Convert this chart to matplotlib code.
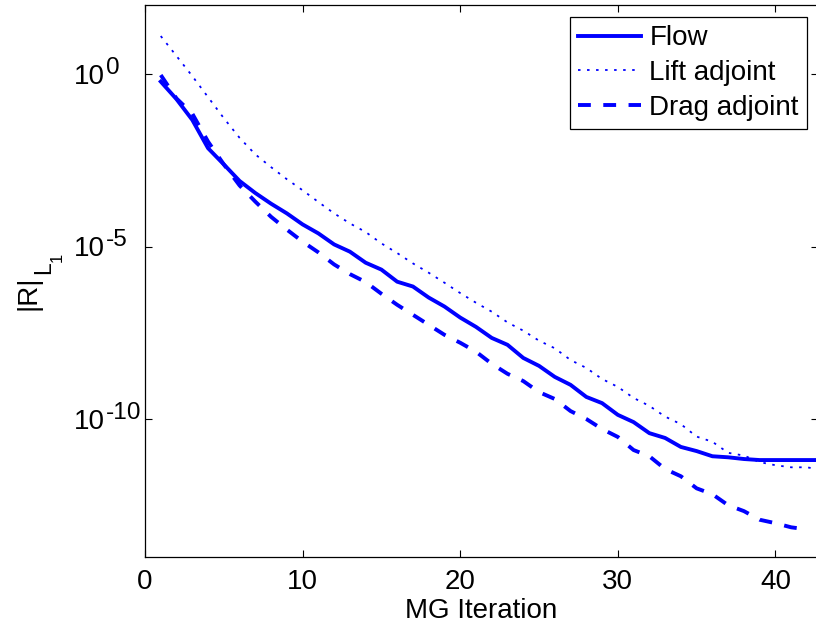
import numpy as np
import matplotlib
matplotlib.use("Agg")
import matplotlib.pyplot as plt
from matplotlib.ticker import FixedLocator, NullLocator, NullFormatter
from matplotlib.transforms import offset_copy

plt.rcParams['font.family'] = ['Liberation Sans', 'DejaVu Sans']
plt.rcParams['mathtext.fontset'] = 'custom'
plt.rcParams['mathtext.rm'] = 'Liberation Sans'
plt.rcParams['mathtext.it'] = 'Liberation Sans'
plt.rcParams['mathtext.default'] = 'regular'

# MG iteration numbers
iter_flow = list(range(1, 44))
iter_lift = list(range(1, 44))
iter_drag = list(range(1, 43))

# log10 of residual L1 norm
flow_log10 = [-0.22, -0.73, -1.33, -2.15, -2.62, -3.10, -3.45, -3.76, -4.04, -4.36,
              -4.62, -4.94, -5.15, -5.47, -5.67, -6.02, -6.16, -6.48, -6.74, -7.06,
              -7.33, -7.65, -7.85, -8.23, -8.46, -8.78, -9.01, -9.36, -9.54, -9.88,
              -10.09, -10.41, -10.55, -10.81, -10.93, -11.08, -11.11, -11.16, -11.19, -11.19,
              -11.19, -11.19, -11.19]
lift_log10 = [1.10, 0.52, -0.06, -0.67, -1.28, -1.85, -2.33, -2.70, -3.05, -3.37,
              -3.71, -4.04, -4.33, -4.58, -4.91, -5.19, -5.49, -5.76, -6.05, -6.35,
              -6.63, -6.89, -7.20, -7.44, -7.73, -7.95, -8.29, -8.52, -8.84, -9.07,
              -9.39, -9.62, -9.93, -10.15, -10.51, -10.66, -10.98, -11.06, -11.25, -11.34,
              -11.40, -11.40, -11.48]
drag_log10 = [-0.03, -0.71, -1.15, -1.96, -2.62, -3.23, -3.70, -4.14, -4.51, -4.86,
              -5.17, -5.52, -5.80, -6.03, -6.37, -6.69, -6.98, -7.27, -7.56, -7.79,
              -8.05, -8.40, -8.69, -8.90, -9.22, -9.42, -9.77, -10.00, -10.29, -10.52,
              -10.90, -11.08, -11.45, -11.66, -12.01, -12.18, -12.50, -12.67, -12.92, -13.02,
              -13.14, -13.20]

labels = ["Flow", "Lift adjoint", "Drag adjoint"]
xticks = [0, 10, 20, 30, 40]
ytick_exponents = [-10, -5, 0]
ytick_exp_labels = ["-10", "-5", "0"]
xlabel = "MG Iteration"
ylabel_parts = ["|R|", "L", "1"]

FS = 20
W, H = 816, 629

fig = plt.figure(figsize=(W / 100, H / 100), dpi=100)
ax = fig.add_axes([145 / W, (H - 557) / H, (818 - 145) / W, (557 - 5) / H])

blue = (0, 0, 1)
ax.semilogy(iter_flow, 10.0 ** np.array(flow_log10), color=blue, lw=2.8,
            linestyle='-', label=labels[0])
ax.semilogy(iter_lift, 10.0 ** np.array(lift_log10), color=blue, lw=1.3,
            linestyle=(0, (1.4, 3.6)), label=labels[1])
ax.semilogy(iter_drag, 10.0 ** np.array(drag_log10), color=blue, lw=2.8,
            linestyle=(0, (3.3, 3.2)), label=labels[2])

ax.set_xlim(0, 42.7)
ax.set_ylim(1e-14, 1e2)
ax.xaxis.set_major_locator(FixedLocator(xticks))
ax.yaxis.set_major_locator(FixedLocator([10.0 ** e for e in ytick_exponents]))
ax.yaxis.set_minor_locator(NullLocator())
ax.xaxis.set_minor_locator(NullLocator())
ax.yaxis.set_major_formatter(NullFormatter())

ax.tick_params(axis='both', which='major', direction='in', length=5, width=0.8,
               top=True, right=True, labelsize=FS, pad=8.5, colors='black')
for s in ax.spines.values():
    s.set_linewidth(0.9)
    s.set_color('black')

# MATLAB-style y tick labels: base "10" right-aligned, exponent hanging right
ytr = ax.get_yaxis_transform()
base_tr = offset_copy(ytr, fig=fig, x=0, y=-10, units='dots')
exp_tr = offset_copy(ytr, fig=fig, x=1, y=0, units='dots')
x_base = (105 - 145) / 673
for e, lab in zip(ytick_exponents, ytick_exp_labels):
    ax.text(x_base, 10.0 ** e, "10", transform=base_tr, ha='right', va='baseline',
            fontsize=FS, clip_on=False)
    ax.text(x_base, 10.0 ** e, lab, transform=exp_tr, ha='left', va='baseline',
            fontsize=FS * 0.88, clip_on=False)

ax.set_xlabel(xlabel, fontsize=FS, labelpad=2.5)

# y label |R|_{L_1}, rotated, with MATLAB-like deep subscripts
def ftext(px, py, s, size):
    fig.text(px / W, 1 - py / H, s, rotation=90, rotation_mode='anchor',
             ha='left', va='baseline', fontsize=size)

ftext(35, 310, ylabel_parts[0], FS)
ftext(50, 274, ylabel_parts[1], 16.5)
ftext(62, 262, ylabel_parts[2], 12)

leg = ax.legend(loc='upper right', bbox_to_anchor=((807 - 145) / 673, (557 - 17) / 552),
                borderaxespad=0, fontsize=FS, handlelength=2.27, handletextpad=0.29,
                labelspacing=0.31, borderpad=0.3, fancybox=False, framealpha=1,
                edgecolor='black')
leg.get_frame().set_linewidth(0.9)

fig.savefig("out.png", dpi=100)
